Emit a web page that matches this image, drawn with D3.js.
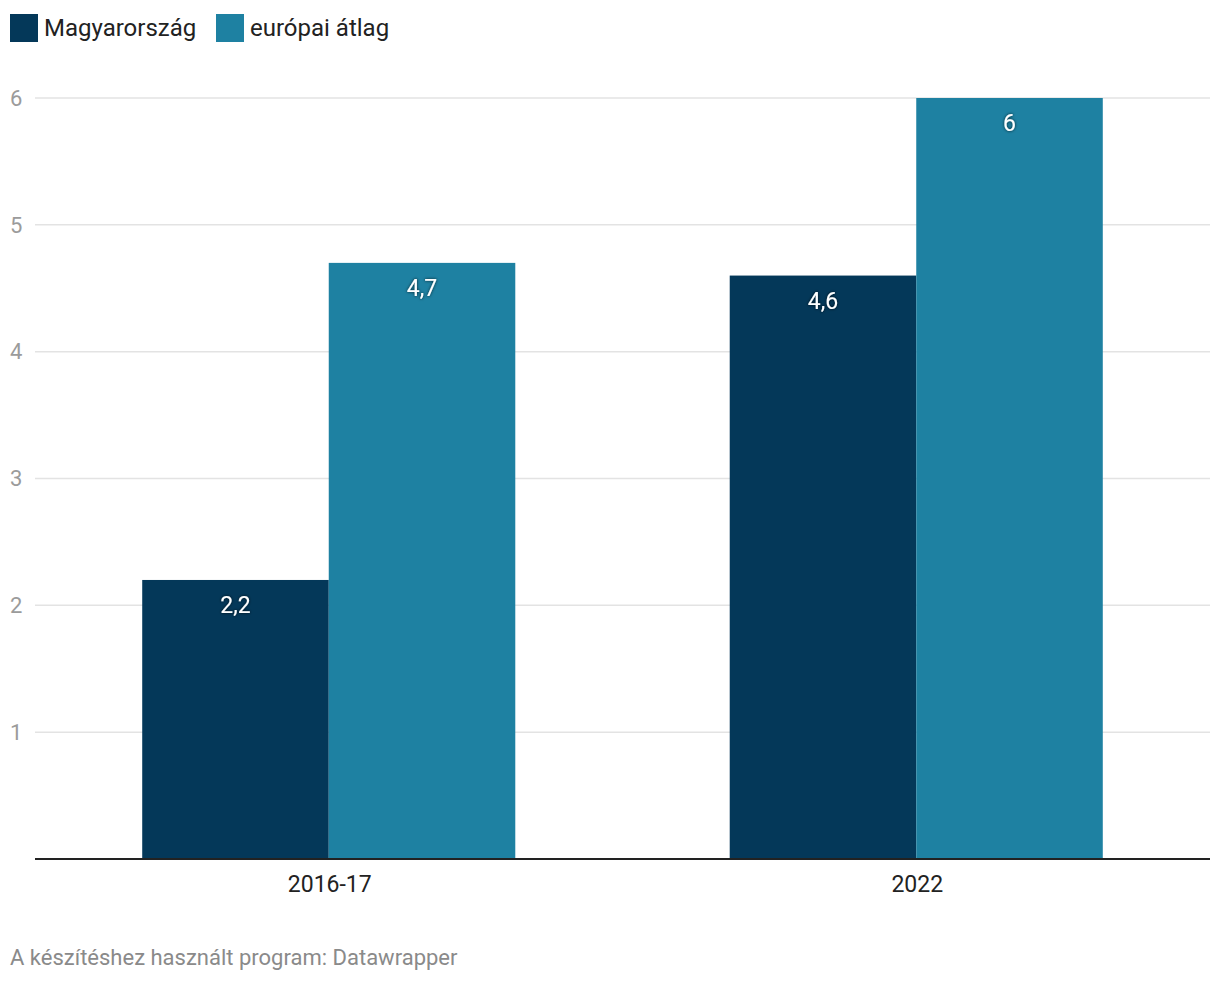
<!DOCTYPE html>
<html><head><meta charset="utf-8">
<script src="https://cdn.jsdelivr.net/npm/d3@7"></script>
<style>
body{margin:0;background:#fff;font-family:Roboto,sans-serif;}
</style></head>
<body><svg id="c" width="1220" height="982"></svg>
<script>
const categories = ["2016-17", "2022"];
const seriesNames = ["Magyarország", "európai átlag"];
const hungary = [2.2, 4.6];
const europe = [4.7, 6];
const yTicks = [1, 2, 3, 4, 5, 6];
const colors = ["#043859", "#1e81a2"];
const footer = "A készítéshez használt program: Datawrapper";

const svg = d3.select("#c");
const defs = svg.append("defs");
const f = defs.append("filter").attr("id","sh").attr("x","-50%").attr("y","-50%").attr("width","200%").attr("height","200%");
f.append("feDropShadow").attr("dx",0).attr("dy",0).attr("stdDeviation",1.5).attr("flood-color","#000").attr("flood-opacity",0.8);

const L = 35, R = 1210, T = 98, B = 859;
const x0 = d3.scaleBand().domain(categories).range([L, R]).paddingInner(0.365).paddingOuter(0.1825);
const x1 = d3.scaleBand().domain(seriesNames).range([0, x0.bandwidth()]);
const y = d3.scaleLinear().domain([0, 6]).range([B, T]);
const color = d3.scaleOrdinal().domain(seriesNames).range(colors);

// gridlines
svg.append("g").selectAll("line").data(yTicks).join("line")
  .attr("x1", L).attr("x2", R).attr("y1", d=>y(d)).attr("y2", d=>y(d))
  .attr("stroke","#e3e3e3").attr("stroke-width",1.5);
svg.append("g").selectAll("text").data(yTicks).join("text")
  .attr("x", 10).attr("y", d=>y(d)).attr("dy","0.35em")
  .attr("font-size",22).attr("fill","#9b9b9b").text(d=>d);

const rows = categories.map((c,i)=>({cat:c, vals:[{s:seriesNames[0], v:hungary[i]},{s:seriesNames[1], v:europe[i]}]}));
const g = svg.append("g").selectAll("g").data(rows).join("g")
  .attr("transform", d=>`translate(${x0(d.cat)},0)`);
g.selectAll("rect").data(d=>d.vals).join("rect")
  .attr("x", d=>x1(d.s)).attr("width", x1.bandwidth())
  .attr("y", d=>y(d.v)).attr("height", d=>y(0)-y(d.v))
  .attr("fill", d=>color(d.s));
g.selectAll("text").data(d=>d.vals).join("text")
  .attr("x", d=>x1(d.s)+x1.bandwidth()/2).attr("y", d=>y(d.v)+25).attr("dy","0.35em")
  .attr("text-anchor","middle").attr("font-size",23).attr("fill","#fff")
  .attr("filter","url(#sh)")
  .text(d=>String(d.v).replace(".", ","));

// baseline
svg.append("line").attr("x1",L).attr("x2",R).attr("y1",y(0)).attr("y2",y(0))
  .attr("stroke","#222").attr("stroke-width",2);

// x labels
svg.append("g").selectAll("text").data(categories).join("text")
  .attr("x", d=>x0(d)+x0.bandwidth()/2+1).attr("y", 884).attr("dy","0.35em")
  .attr("text-anchor","middle").attr("font-size",23).attr("fill","#222").text(d=>d);

// legend
const leg = svg.append("g");
const legX = [10, 216];
seriesNames.forEach((s,i)=>{
  leg.append("rect").attr("x",legX[i]).attr("y",14).attr("width",28).attr("height",28).attr("fill",colors[i]);
  leg.append("text").attr("x",legX[i]+34).attr("y",28).attr("dy","0.35em")
    .attr("font-size",24).attr("fill","#222").text(s);
});

svg.append("text").attr("x",10).attr("y",957).attr("dy","0.35em")
  .attr("font-size",22).attr("fill","#8a8a8a").text(footer);
</script></body></html>
